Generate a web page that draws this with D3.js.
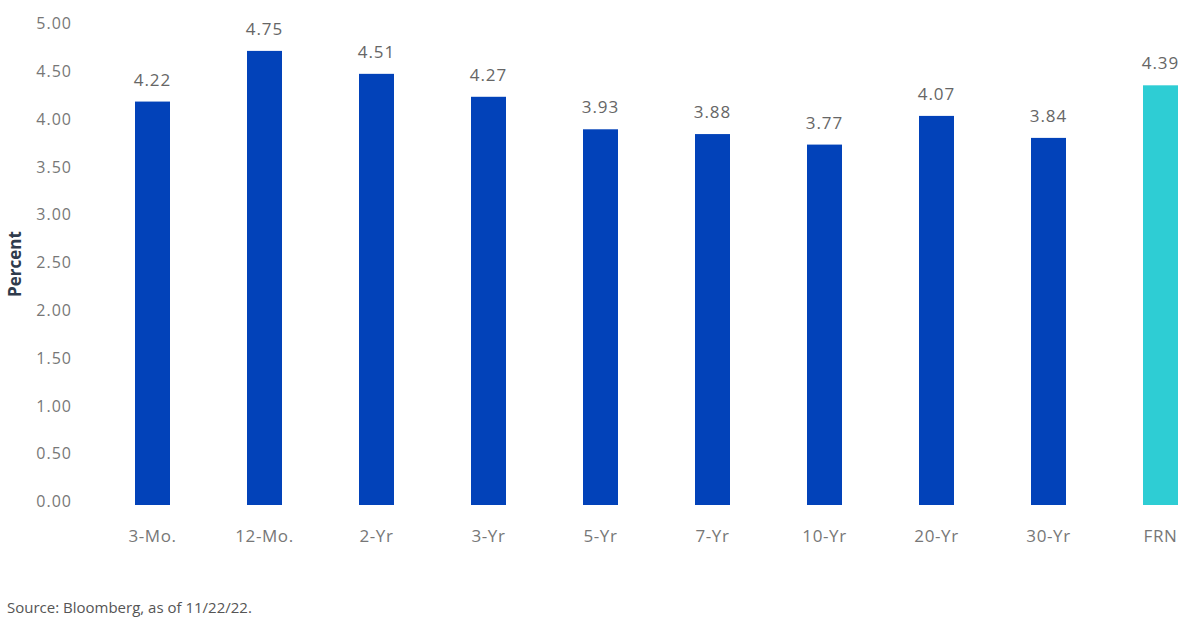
<!DOCTYPE html>
<html>
<head>
<meta charset="utf-8">
<script src="https://cdn.jsdelivr.net/npm/d3@7"></script>
<style>
  body { margin: 0; background: #fff; }
  svg text { font-family: "Open Sans", "Noto Sans", sans-serif; }
</style>
</head>
<body>
<svg id="chart" width="1200" height="628"></svg>
<script>
// treasury yields by maturity
const categories = ['3-Mo.', '12-Mo.', '2-Yr', '3-Yr', '5-Yr', '7-Yr', '10-Yr', '20-Yr', '30-Yr', 'FRN']
const yields = [4.22, 4.75, 4.51, 4.27, 3.93, 3.88, 3.77, 4.07, 3.84, 4.39]
const yTicks = [0, 0.5, 1, 1.5, 2, 2.5, 3, 3.5, 4, 4.5, 5]

const blue = '#0242b9'
const cyan = '#2ecdd4'
const barWidth = 35

const svg = d3.select('#chart')

const x = d3.scalePoint()
  .domain(categories)
  .range([152.5, 1160.5])

const y = d3.scaleLinear()
  .domain([0, 5])
  .range([505, 27])

// y axis labels (no line, no ticks)
svg.append('g')
  .selectAll('text')
  .data(yTicks)
  .join('text')
  .attr('x', 72)
  .attr('y', (d) => y(d) - 2)
  .attr('text-anchor', 'end')
  .attr('dominant-baseline', 'middle')
  .attr('font-size', 16)
  .attr('letter-spacing', 1)
  .attr('fill', '#777')
  .text((d) => d3.format('.2f')(d))

svg.append('text')
  .attr('transform', 'translate(21,264) rotate(-90)')
  .attr('text-anchor', 'middle')
  .attr('font-size', 17)
  .attr('font-weight', 'bold')
  .attr('fill', '#2f3b4c')
  .text('Percent')

// bars
svg.append('g')
  .selectAll('rect')
  .data(yields)
  .join('rect')
  .attr('x', (d, i) => x(categories[i]) - barWidth / 2)
  .attr('y', (d) => y(d))
  .attr('width', barWidth)
  .attr('height', (d) => y(0) - y(d))
  .attr('fill', (d, i) => categories[i] === 'FRN' ? cyan : blue)

// value labels
svg.append('g')
  .selectAll('text')
  .data(yields)
  .join('text')
  .attr('x', (d, i) => x(categories[i]))
  .attr('y', (d) => y(d) - 16)
  .attr('text-anchor', 'middle')
  .attr('font-size', 17)
  .attr('letter-spacing', 1)
  .attr('fill', '#666')
  .text((d) => d3.format('.2f')(d))

// category labels
svg.append('g')
  .selectAll('text')
  .data(categories)
  .join('text')
  .attr('x', (d) => x(d))
  .attr('y', 542)
  .attr('text-anchor', 'middle')
  .attr('font-size', 17)
  .attr('letter-spacing', 0.6)
  .attr('fill', '#777')
  .text((d) => d)

svg.append('text')
  .attr('x', 7)
  .attr('y', 613)
  .attr('font-size', 15)
  .attr('fill', '#555')
  .text('Source: Bloomberg, as of 11/22/22.')
</script>
</body>
</html>
